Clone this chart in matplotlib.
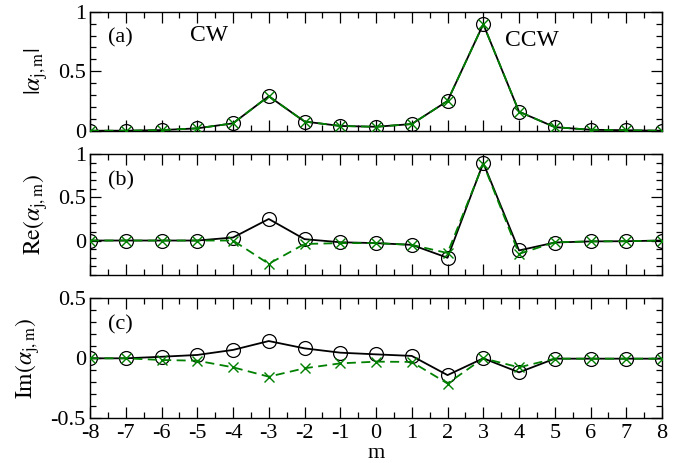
import matplotlib.pyplot as plt
from matplotlib.ticker import MultipleLocator, FixedLocator

plt.rcParams['font.family'] = ['Liberation Serif', 'DejaVu Serif']
plt.rcParams['mathtext.fontset'] = 'stix'

m = list(range(-8, 9))

# |alpha_{j,m}|
abs_black = [0.0, 0.0, 0.005, 0.02, 0.062, 0.29, 0.077, 0.04, 0.033, 0.056, 0.25, 0.895, 0.16, 0.03, 0.008, 0.004, 0.0]
abs_green = [0.0, 0.0, 0.005, 0.02, 0.062, 0.29, 0.077, 0.04, 0.033, 0.056, 0.25, 0.895, 0.16, 0.03, 0.008, 0.004, 0.0]

# Re(alpha_{j,m})
re_black = [0.0, 0.0, 0.0, 0.0, 0.035, 0.25, 0.016, -0.02, -0.03, -0.05, -0.2, 0.9, -0.115, -0.023, -0.01, -0.008, 0.0]
re_green = [0.0, 0.0, 0.0, 0.0, 0.0, -0.27, -0.04, -0.03, -0.03, -0.05, -0.145, 0.89, -0.155, -0.02, -0.01, -0.008, 0.0]

# Im(alpha_{j,m})
im_black = [0.0, 0.0, 0.013, 0.028, 0.07, 0.144, 0.083, 0.047, 0.033, 0.02, -0.14, 0.0, -0.117, -0.003, -0.003, -0.003, -0.003]
im_green = [0.0, 0.0, -0.014, -0.02, -0.075, -0.153, -0.083, -0.042, -0.028, -0.03, -0.21, 0.0, -0.075, -0.003, -0.003, -0.003, -0.003]

fig = plt.figure(figsize=(6.93, 4.63), dpi=100)
ax_a = fig.add_axes([0.1299, 0.7177, 0.8254, 0.2570])
ax_b = fig.add_axes([0.1299, 0.4060, 0.8254, 0.2607])
ax_c = fig.add_axes([0.1299, 0.0965, 0.8254, 0.2592])

panels = [
    (ax_a, abs_black, abs_green, (0, 1), [0, 0.5, 1], ['0', '0.5', '1'],
     r'$|\alpha_{\mathrm{j,m}}|$', '(a)', 0.74),
    (ax_b, re_black, re_green, (-0.4, 1), [0, 0.5, 1], ['0', '0.5', '1'],
     r'$\mathrm{Re}(\alpha_{\mathrm{j,m}})$', '(b)', 0.74),
    (ax_c, im_black, im_green, (-0.5, 0.5), [-0.5, 0, 0.5], ['-0.5', '0', '0.5'],
     r'$\mathrm{Im}(\alpha_{\mathrm{j,m}})$', '(c)', 0.74),
]

for ax, yb, yg, ylim, yt, ytl, ylab, tag, ty in panels:
    ax.plot(m, yb, color='black', lw=1.3, marker='o', ms=10, mfc='none', mec='black', mew=0.9, zorder=3)
    ax.plot(m, yg, color='green', lw=1.3, dashes=(5, 3), marker='x', ms=6.5, mec='green', mew=1.0, zorder=4)
    ax.set_xlim(-8, 8)
    ax.set_ylim(*ylim)
    ax.xaxis.set_major_locator(MultipleLocator(1))
    ax.xaxis.set_minor_locator(MultipleLocator(0.5))
    ax.yaxis.set_major_locator(FixedLocator(yt))
    ax.yaxis.set_minor_locator(MultipleLocator(0.1))
    ax.set_yticklabels(ytl)
    ax.tick_params(which='both', direction='in', top=True, right=True, labelsize=16, width=0.9)
    ax.tick_params(which='major', length=8)
    ax.tick_params(which='minor', length=4)
    ax.tick_params(axis='y', pad=3)
    ax.tick_params(axis='x', pad=4)
    for s in ax.spines.values():
        s.set_linewidth(1.0)
    ax.set_ylabel(ylab, fontsize=17, labelpad=6)
    ax.text(0.032, ty, tag, transform=ax.transAxes, fontsize=16)

for ax in (ax_a, ax_b):
    ax.tick_params(labelbottom=False)

ax_c.set_xticks(m)
ax_c.set_xticklabels([str(v) for v in m])
ax_c.set_xlabel('m', fontsize=16, labelpad=1)

ax_a.text(-5.2, 0.75, 'CW', fontsize=17)
ax_a.text(3.6, 0.71, 'CCW', fontsize=17)

fig.align_ylabels([ax_a, ax_b, ax_c])
fig.savefig('out.png', dpi=100)
